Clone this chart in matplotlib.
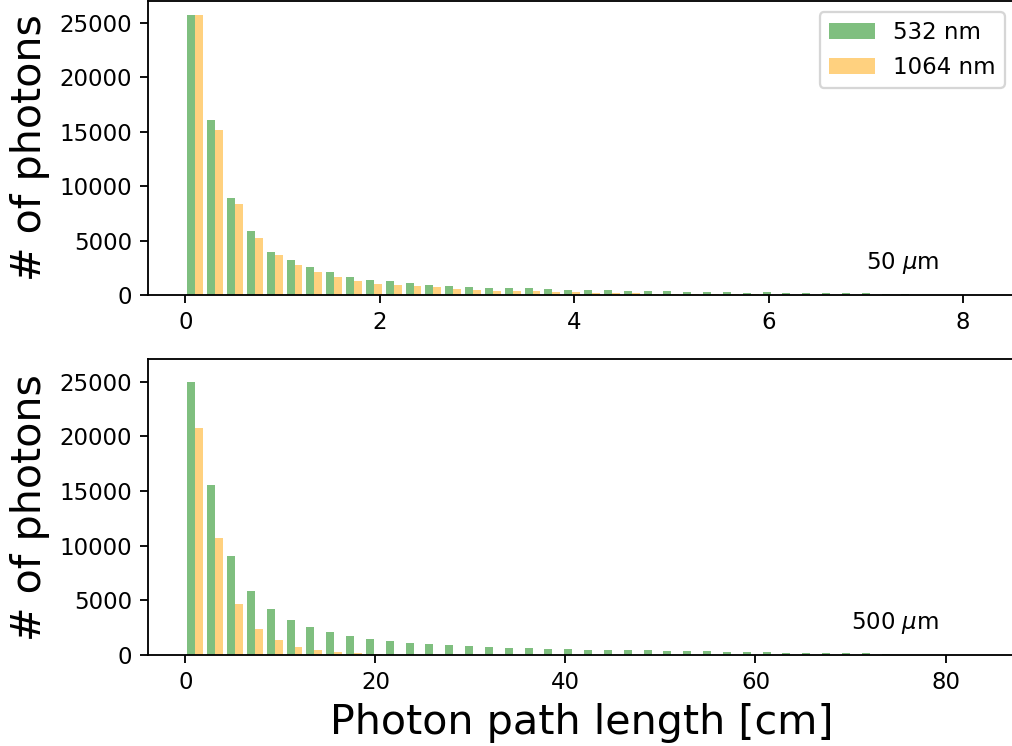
import numpy as np
import matplotlib
matplotlib.use("Agg")
import matplotlib.pyplot as plt
from matplotlib.ticker import MultipleLocator

# гистограммы длины пути фотонов, 40 бинов
edges_50 = np.linspace(0, 8.16, 41)
edges_500 = np.linspace(0, 83.5, 41)

green_50 = [25760, 16070, 8890, 5840, 3910, 3210, 2570, 2080, 1650, 1380, 1280, 1100, 920,
            825, 765, 640, 610, 640, 520, 460, 430, 430, 370, 370, 335, 305, 260,
            244, 214, 244, 214, 183, 153, 153, 153, 122, 61,
            0, 0, 0]
orange_50 = [25700, 15190, 8370, 5230, 3670, 2720, 2110, 1620, 1280, 1040, 920, 790, 700,
             550, 460, 400, 370, 335, 245, 245, 215, 215, 200, 120, 90, 60, 60,
             50, 45, 40, 35, 30, 25, 20, 15, 10, 5,
             0, 0, 0]

green_500 = [25010, 15550, 9090, 5860, 4180, 3170, 2530, 2070, 1710, 1460, 1280, 1070, 990,
             885, 825, 730, 640, 610, 520, 520, 490, 460, 430, 430, 365, 365, 350,
             245, 245, 245, 215, 215, 215, 185, 150, 120,
             0, 0, 0, 0]
orange_500 = [20800, 10670, 4670, 2350, 1370, 730, 430, 245, 150, 60, 25, 10, 5] + [0] * 27

labels = ["532 nm", "1064 nm"]
colors = ["green", "orange"]

DPI = 165
fig = plt.figure(figsize=(1012 / DPI, 746 / DPI), dpi=DPI)
ax1 = fig.add_axes([0.1462, 0.6046, 0.858, 0.3947])
ax2 = fig.add_axes([0.1462, 0.122, 0.858, 0.3964], sharey=ax1)

for ax, edges, g, o, name, tx in [(ax1, edges_50, green_50, orange_50, r"50 $\mu$m", 7),
                                  (ax2, edges_500, green_500, orange_500, r"500 $\mu$m", 70)]:
    centers = (edges[:-1] + edges[1:]) / 2
    ax.hist([centers, centers], bins=edges, weights=[g, o],
            color=colors, alpha=0.5, label=labels)
    ax.set_ylabel("# of photons", fontsize=18)
    ax.text(tx, 2400, name, fontsize=10)

ax1.xaxis.set_major_locator(MultipleLocator(2))
ax2.xaxis.set_major_locator(MultipleLocator(20))
ax1.legend(loc="upper right")
ax2.set_xlabel("Photon path length [cm]", fontsize=18)

fig.savefig("out.png", dpi=DPI)
